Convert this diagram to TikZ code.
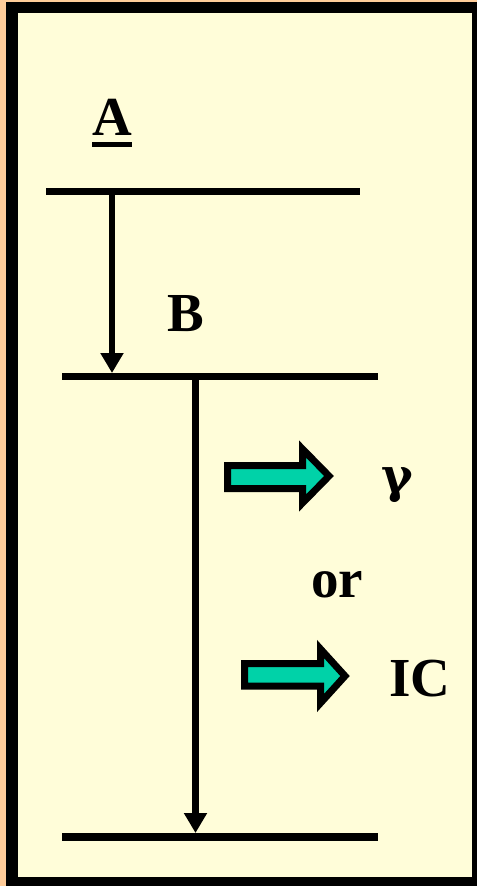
\documentclass[tikz,border=0pt]{standalone}
\usepackage{fontspec}
\setmainfont{Liberation Serif}
\newfontfamily\gammafont{DejaVu Serif}
\usetikzlibrary{arrows.meta}
\definecolor{peach}{HTML}{FFCC99}
\definecolor{bgyellow}{HTML}{FFFDD9}
\definecolor{tealfill}{HTML}{00D2A8}
\tikzset{
  level/.style={line width=7.5pt},
  trans/.style={line width=6.5pt,-{Triangle[width=22pt,length=20pt]}},
  lbl/.style={font=\fontsize{55}{60}\selectfont\bfseries, inner sep=0pt, anchor=base},
  blockarrow/.style={draw=black, line width=7pt, fill=tealfill, miter limit=10}
}
\newcommand{\myul}[1]{{\setbox0\hbox{#1}\rlap{\rule[-12pt]{\wd0}{5.5pt}}#1}}
\begin{document}
\begin{tikzpicture}[x=1pt,y=-1pt]
\useasboundingbox (0,0) rectangle (477,886);
% frame
\fill[peach] (0,0) rectangle (477,886);
\fill[black] (6,2) rectangle (477,886);
\fill[bgyellow] (18,13) rectangle (472,877);
% levels
\coordinate (l1a) at (46,191.5);
\coordinate (l1b) at (360,191.5);
\coordinate (l2a) at (62,376.5);
\coordinate (l2b) at (378,376.5);
\coordinate (l3a) at (62,837);
\coordinate (l3b) at (378,837);
\draw[level] (l1a) -- (l1b);
\draw[level] (l2a) -- (l2b);
\draw[level] (l3a) -- (l3b);
% transitions
\coordinate (t1s) at (112,191.5);
\coordinate (t1e) at (112,373);
\coordinate (t2s) at (195.5,376.5);
\coordinate (t2e) at (195.5,833);
\draw[trans] (t1s) -- (t1e);
\draw[trans] (t2s) -- (t2e);
% labels
\node[lbl] (A) at (112,135) {\myul{A}};
\node[lbl] (B) at (186,331) {B};
\node[lbl, font=\fontsize{48}{52}\selectfont\bfseries\gammafont] (g) at (397,492) {γ};
\node[lbl] (or) at (337,597) {or};
\node[lbl] (IC) at (420,696) {IC};
% block arrows
\draw[blockarrow] (227.5,465.5) -- (302.5,465.5) -- (302.5,449) -- (329,476) -- (302.5,503) -- (302.5,488.5) -- (227.5,488.5) -- cycle;
\draw[blockarrow] (244.5,663.5) -- (320.5,663.5) -- (320.5,649) -- (345,676) -- (320.5,703) -- (320.5,686) -- (244.5,686) -- cycle;
\end{tikzpicture}
\end{document}
